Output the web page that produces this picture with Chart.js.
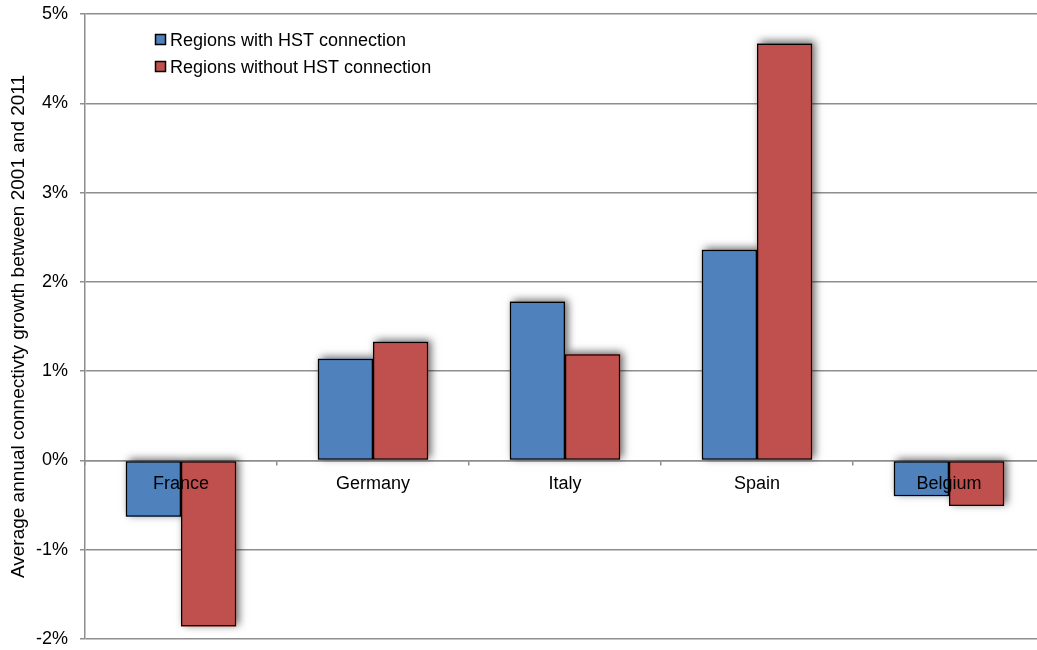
<!DOCTYPE html>
<html>
<head>
<meta charset="utf-8">
<script src="https://cdn.jsdelivr.net/npm/chart.js@4/dist/chart.umd.min.js"></script>
<style>
  html, body { margin: 0; padding: 0; background: #fff; overflow: hidden; }
  #wrap { width: 1046px; height: 650px; }
</style>
</head>
<body>
<div id="wrap"><canvas id="c" width="1046" height="650"></canvas></div>
<script>
// Countries on the horizontal axis
const countries = ['France', 'Germany', 'Italy', 'Spain', 'Belgium'];
// Average annual connectivity growth 2001–2011, in percent
const withHST = [-0.63, 1.14, 1.78, 2.36, -0.40];
const withoutHST = [-1.86, 1.33, 1.19, 4.67, -0.51];
const seriesNames = ['Regions with HST connection', 'Regions without HST connection'];
const yTicks = [-2, -1, 0, 1, 2, 3, 4, 5];
const yTitle = 'Average annual connectivty growth between 2001 and 2011';

const FONT = 'Liberation Sans, Arial, sans-serif';
const GRID = '#8e8e8e';

// Soft drop shadow painted under every bar before the bars themselves
const barShadow = {
  id: 'barShadow',
  beforeDatasetsDraw(chart) {
    const ctx = chart.ctx;
    ctx.save();
    ctx.shadowColor = 'rgba(0,0,0,0.6)';
    ctx.shadowBlur = 8;
    ctx.shadowOffsetX = 3;
    ctx.shadowOffsetY = -2;
    chart.getSortedVisibleDatasetMetas().forEach(meta => {
      meta.data.forEach(bar => {
        const { x, y, base, width } = bar.getProps(['x', 'y', 'base', 'width'], true);
        const top = Math.min(y, base);
        const h = Math.abs(base - y);
        ctx.fillStyle = bar.options.backgroundColor;
        ctx.fillRect(x - width / 2, top, width, h);
      });
    });
    ctx.restore();
  }
};

// Legend stacked in the upper-left corner of the plot
const innerLegend = {
  id: 'innerLegend',
  afterDraw(chart) {
    const ctx = chart.ctx;
    const x0 = chart.chartArea.left + 70.5;
    const y0 = chart.chartArea.top + 26;
    ctx.save();
    ctx.font = '18px ' + FONT;
    ctx.textBaseline = 'middle';
    chart.data.datasets.forEach((ds, i) => {
      const y = y0 + i * 27;
      ctx.fillStyle = ds.backgroundColor;
      ctx.strokeStyle = '#000';
      ctx.lineWidth = 1.5;
      ctx.fillRect(x0, y - 5.5, 10, 10);
      ctx.strokeRect(x0, y - 5.5, 10, 10);
      ctx.fillStyle = '#000';
      ctx.fillText(ds.label, x0 + 14.5, y + 1);
    });
    ctx.restore();
  }
};

// Let the plot area follow the layout padding alone
function noLabelPadding(scale) {
  scale.paddingTop = 0;
  scale.paddingBottom = 0;
  scale.paddingLeft = 0;
  scale.paddingRight = 0;
}

new Chart(document.getElementById('c'), {
  type: 'bar',
  data: {
    labels: countries,
    datasets: [
      { label: seriesNames[0], data: withHST, backgroundColor: '#4f81bd' },
      { label: seriesNames[1], data: withoutHST, backgroundColor: '#c0504d' }
    ]
  },
  options: {
    responsive: false,
    animation: false,
    devicePixelRatio: 1,
    layout: { padding: { top: 14, bottom: 11, left: 0, right: 1 } },
    datasets: {
      bar: {
        borderColor: '#000',
        borderWidth: 1.5,
        borderSkipped: false,
        barPercentage: 1,
        categoryPercentage: 0.575
      }
    },
    plugins: {
      legend: { display: false },
      tooltip: { enabled: false }
    },
    scales: {
      x: {
        position: { y: 0 },
        offset: true,
        afterFit: noLabelPadding,
        grid: {
          offset: true,
          drawOnChartArea: false,
          drawTicks: true,
          tickLength: 4,
          color: GRID,
          lineWidth: 1.5
        },
        border: { display: true, color: GRID, width: 1.5 },
        ticks: {
          z: 2,
          color: '#000',
          font: { family: FONT, size: 18 },
          padding: 9,
          maxRotation: 0,
          autoSkip: false
        }
      },
      y: {
        min: -2,
        max: 5,
        afterBuildTicks(scale) {
          scale.ticks = yTicks.map(v => ({ value: v }));
        },
        afterFit(scale) {
          scale.width = 85;
          noLabelPadding(scale);
        },
        grid: {
          color: GRID,
          lineWidth: 1.5,
          tickLength: 5,
          drawTicks: true
        },
        border: { display: true, color: GRID, width: 1.5 },
        ticks: {
          color: '#000',
          font: { family: FONT, size: 18 },
          padding: 12,
          callback: v => v + '%'
        },
        title: {
          display: true,
          text: yTitle,
          color: '#000',
          font: { family: FONT, size: 19 },
          padding: { top: 7, bottom: 0 }
        }
      }
    }
  },
  plugins: [barShadow, innerLegend]
});
</script>
</body>
</html>
